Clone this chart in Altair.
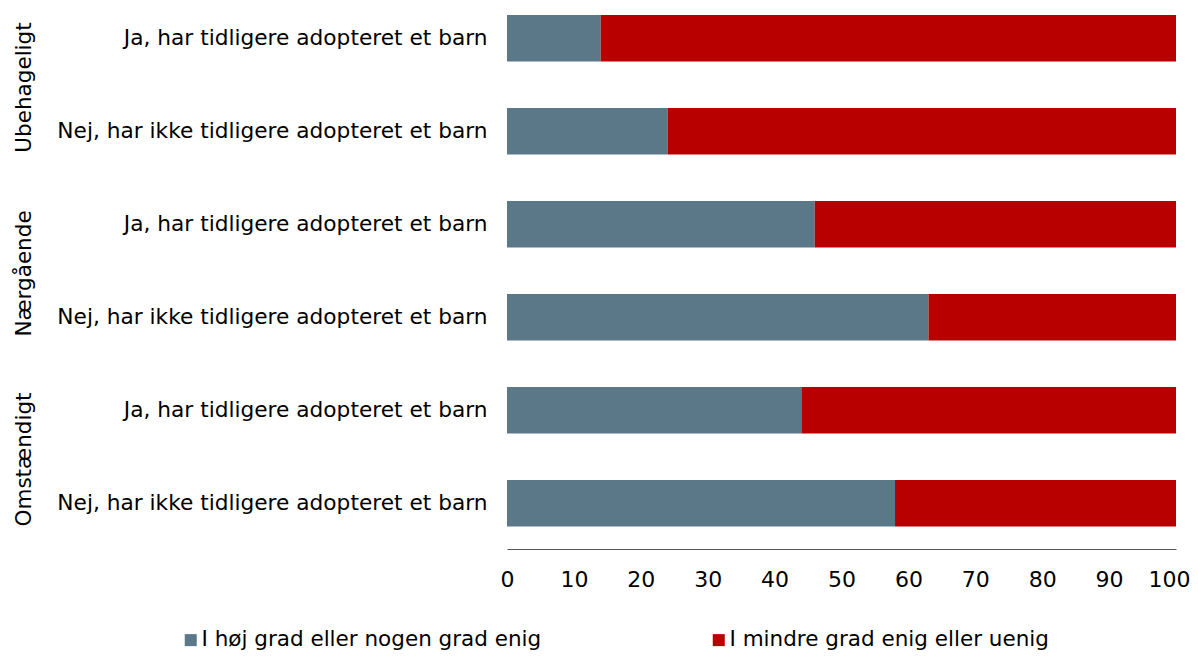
import altair as alt
import pandas as pd

groups = ["Ubehageligt", "Nærgående", "Omstændigt"]
answers = ["Ja, har tidligere adopteret et barn", "Nej, har ikke tidligere adopteret et barn"]
series = ["I høj grad eller nogen grad enig", "I mindre grad enig eller uenig"]
enig = [14, 24, 46, 63, 44, 58]
uenig = [86, 76, 54, 37, 56, 42]
colors = ["#5B7889", "#B80000"]

rows = []
keys = []
for gi, g in enumerate(groups):
    for ai, a in enumerate(answers):
        k = f"{g}|{a}"
        keys.append(k)
        i = gi * 2 + ai
        rows.append({"key": k, "series": series[0], "value": enig[i], "ord": 0})
        rows.append({"key": k, "series": series[1], "value": uenig[i], "ord": 1})
df = pd.DataFrame(rows)
gdf = pd.DataFrame({"key": [f"{g}|{answers[0]}" for g in groups], "group": groups})

FONT = "DejaVu Sans"

yscale = alt.Scale(domain=keys, paddingInner=0.5, paddingOuter=0.1586, align=0.237, round=False)

bars = alt.Chart(df).mark_bar().encode(
    x=alt.X("value:Q", stack="zero",
            scale=alt.Scale(domain=[0, 100], nice=False),
            axis=alt.Axis(values=list(range(0, 101, 10)), title=None, grid=False, ticks=False,
                          domainColor="#555555", labelFontSize=22, labelFont=FONT,
                          labelColor="#000000", labelPadding=20, labelFlush=False,
                          labelAlign={"condition": {"test": "datum.value == 100", "value": "right"},
                                      "value": "center"},
                          labelOffset={"condition": {"test": "datum.value == 100", "value": 14},
                                       "value": 0})),
    y=alt.Y("key:N", scale=yscale,
            axis=alt.Axis(title=None, domain=False, ticks=False, labelFontSize=21.7, labelFont=FONT,
                          labelColor="#000000", labelPadding=20, labelLimit=600,
                          labelExpr="split(datum.label, '|')[1]")),
    color=alt.Color("series:N", scale=alt.Scale(domain=series, range=colors),
                    legend=alt.Legend(title=None, orient="none", legendX=-327, legendY=621,
                                      direction="horizontal", symbolType="square", symbolSize=144,
                                      symbolStrokeWidth=0, labelFontSize=21.5, labelFont=FONT,
                                      labelColor="#000000", labelOffset=0, columnPadding=166,
                                      labelLimit=600)),
    order=alt.Order("ord:Q"),
)

glabels = alt.Chart(gdf).mark_text(angle=270, align="center", baseline="middle",
                                   font=FONT, fontSize=21.5, color="#000000").encode(
    y=alt.Y("key:N", scale=yscale),
    yOffset=alt.value(72.5),
    x=alt.value(-482),
    text="group:N",
)

chart = alt.layer(bars, glabels).properties(
    width=669, height=541,
    autosize=alt.AutoSizeParams(type="none"),
    padding={"left": 499, "top": 0, "right": 14, "bottom": 105},
    background="white",
).configure_view(stroke=None)

chart.save("out.html", embed_options={"renderer": "svg", "actions": False})
